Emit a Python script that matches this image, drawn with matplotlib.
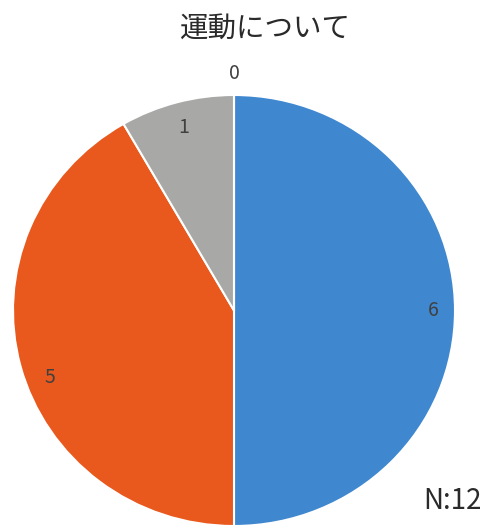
import numpy as np
import matplotlib.pyplot as plt

plt.rcParams['font.family'] = ['Noto Sans CJK JP', 'DejaVu Sans']

title = '運動について'
values = [6, 5, 1, 0]
labels = ['6', '5', '1', '0']
colors = ['#3f87cf', '#e9591d', '#a8a8a6', '#f2c230']
label_dist = [0.9, 0.89, 0.88, 1.1]
label_shift = [0, 5.5, 0, 0]   # degrees, nudges the label along the arc
n_total = sum(values)

fig = plt.figure(figsize=(4.87, 5.28), dpi=100)
# axes box matches the pie bounding box in pixels
ax = fig.add_axes([13/487, 2/528, 442/487, 431/528])
wedges, _ = ax.pie(values, colors=colors, startangle=90, counterclock=False,
                   wedgeprops=dict(edgecolor='white', linewidth=1.5))
ax.set_xlim(-1, 1)
ax.set_ylim(-1, 1)
ax.set_aspect('auto')

for w, lab, d, s in zip(wedges, labels, label_dist, label_shift):
    ang = np.deg2rad((w.theta1 + w.theta2) / 2 + s)
    ax.text(d*np.cos(ang), d*np.sin(ang), lab, ha='center', va='center',
            fontsize=14, color='#404040')

fig.text(265/487, 1 - 29/528, title, ha='center', va='center',
         fontsize=20.5, color='#2a2a2a')
fig.text(452/487, 1 - 501/528, 'N:' + str(n_total), ha='center', va='center',
         fontsize=20, color='#2a2a2a')

fig.savefig('out.png', dpi=100)
